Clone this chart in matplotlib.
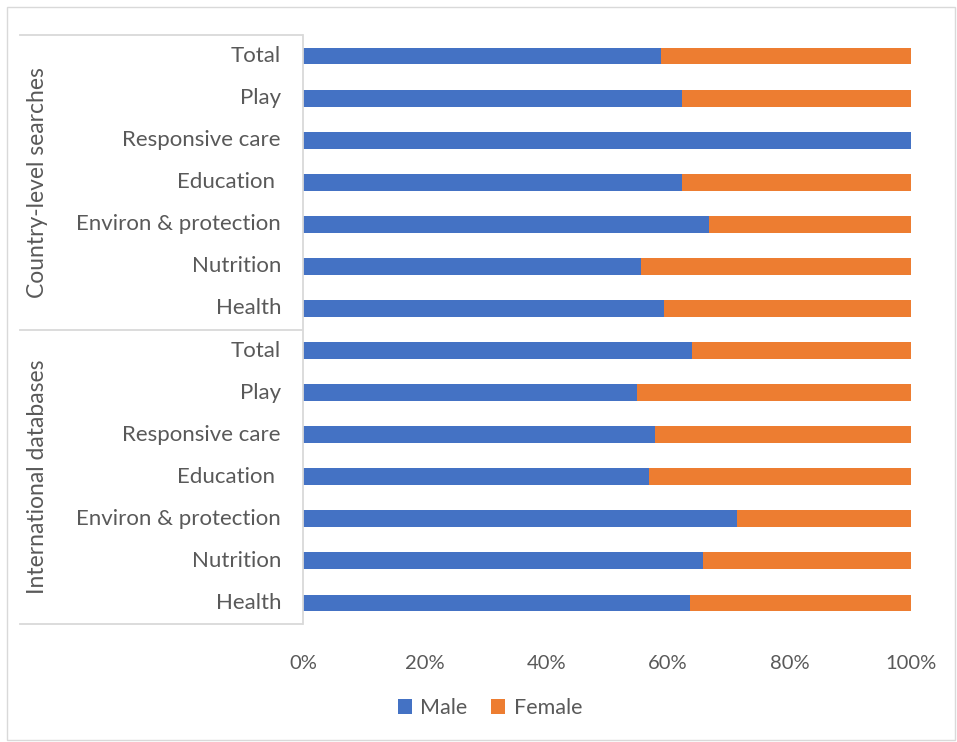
import numpy as np
import matplotlib.pyplot as plt
from matplotlib.patches import Rectangle
from matplotlib.lines import Line2D

plt.rcParams['font.family'] = ['Lato', 'DejaVu Sans']

# categories, listed top to bottom
categories = ['Total', 'Play', 'Responsive care', 'Education ', 'Environ & protection', 'Nutrition', 'Health',
              'Total', 'Play', 'Responsive care', 'Education ', 'Environ & protection', 'Nutrition', 'Health']
groups = ['Country-level searches', 'International databases']

# share of male (%) per category; female is the remainder
male = [58.8, 62.4, 100.0, 62.4, 66.7, 55.6, 59.3,
        64.0, 55.0, 57.9, 56.9, 71.4, 65.8, 63.7]
female = [100 - m for m in male]

blue = '#4472c4'
orange = '#ed7d31'
grey_text = '#595959'
line_col = '#d9d9d9'

W, H = 957, 742
fig = plt.figure(figsize=(W / 100, H / 100), dpi=100)

# axes box in pixels: x 303..911, y 35..624
x0, x1, y0, y1 = 303, 911, 35, 624
ax = fig.add_axes([x0 / W, 1 - y1 / H, (x1 - x0) / W, (y1 - y0) / H])

n = len(categories)
y = np.arange(n)
ax.barh(y, male, height=0.4, color=blue, label='Male')
ax.barh(y, female, left=male, height=0.4, color=orange, label='Female')

ax.set_ylim(n - 0.5, -0.5)
ax.set_xlim(0, 100)
ax.set_xticks(np.arange(0, 101, 20))
ax.set_xticklabels([f'{v}%' for v in range(0, 101, 20)])
ax.tick_params(axis='x', length=0, pad=22, labelsize=14.5, labelcolor=grey_text)
ax.set_yticks([])
for s in ['top', 'right', 'bottom']:
    ax.spines[s].set_visible(False)
ax.spines['left'].set_color(line_col)
ax.spines['left'].set_linewidth(1.3)

# category labels
for i, c in enumerate(categories):
    fig.text(281 / W, 1 - (y0 + (i + 0.5) * (y1 - y0) / n) / H, c,
             ha='right', va='center', fontsize=16, color=grey_text)

# group separators and group titles
for yy in [y0, (y0 + y1) / 2, y1]:
    fig.add_artist(Line2D([20 / W, 302 / W], [1 - yy / H, 1 - yy / H], color=line_col, lw=1.3))
for g, gi in zip(groups, [0, 1]):
    yc = y0 + (gi + 0.5) * (y1 - y0) / 2
    fig.text(38 / W, 1 - yc / H, g, rotation=90, ha='center', va='center', fontsize=16.5, color=grey_text)

# outer frame
fig.add_artist(Rectangle((7 / W, 2 / H), 948 / W, 733 / H, fill=False, ec=line_col, lw=1.0))

fig.legend(loc='center', bbox_to_anchor=(490 / W, 1 - 708 / H), ncol=2, frameon=False,
           fontsize=15.5, labelcolor=grey_text, handlelength=0.65, handleheight=0.65,
           handletextpad=0.4, columnspacing=1.1)

fig.savefig('out.png', dpi=100)
